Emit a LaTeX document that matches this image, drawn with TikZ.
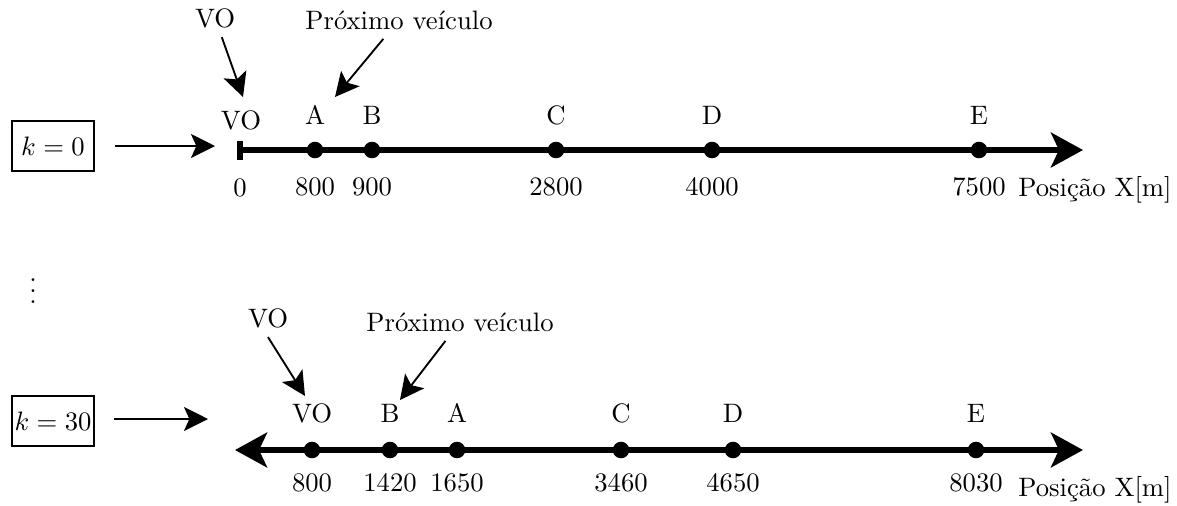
\documentclass[tikz,border=0pt]{standalone}
\usetikzlibrary{arrows.meta,positioning}

\tikzset{
  axis/.style={line width=2.3pt},
  dot/.style={circle,fill,inner sep=0pt,minimum size=6.2pt},
  pointer/.style={line width=0.7pt,-{Stealth[length=9pt,width=9pt,inset=2pt]}},
  stepbox/.style={draw,line width=0.8pt,minimum width=31pt,minimum height=18.5pt,inner sep=0pt},
}

\begin{document}
\begin{tikzpicture}[x=0.375pt,y=-0.375pt]
\useasboundingbox (0,0) rectangle (1177,505);

% instante k = 0
\node[stepbox] (k0) at (53,146) {$k=0$};
\coordinate (in0) at (215,146);
\draw[pointer,shorten <=7.5pt] (k0.east) -- (in0);

\coordinate (s0) at (240,150);
\coordinate (e0) at (1083,150);
\draw[axis,-{Stealth[length=12pt,width=13pt,inset=3pt]}] (s0) -- (e0);
\fill (237,141) rectangle (243,160);
\node (aVO) at (241,120) {VO};
\node (bVO) at (240,188) {0};
\foreach \n/\x/\v in {A/315/800,B/372/900,C/556/2800,D/712/4000,E/979/7500}{
  \node[dot] (d\n) at (\x,150) {};
  \node (a\n) at (\x,115) {\n};
  \node (b\n) at (\x,187) {\v};
}
\node (pos0) at (1095,190) {Posição X[m]};

\node (voT) at (215,18) {VO};
\coordinate (voTip) at (243,97);
\draw[pointer] (voT) -- (voTip);
\node (proxT) at (399,20) {Próximo veículo};
\coordinate (proxTip) at (335,97);
\draw[pointer] (proxT) -- (proxTip);

\node (vdots) at (33,283) {$\vdots$};

% instante k = 30
\node[stepbox] (k30) at (53,421) {$k=30$};
\coordinate (in30) at (208,419);
\draw[pointer,shorten <=7pt] (k30.east |- in30) -- (in30);

\coordinate (s30) at (235,450);
\coordinate (e30) at (1083,450);
\draw[axis,{Stealth[length=12pt,width=13pt,inset=3pt]}-{Stealth[length=12pt,width=13pt,inset=3pt]}] (s30) -- (e30);
\foreach \n/\x/\v in {VO/312/800,B/390/1420,A/457/1650,C/621/3460,D/733/4650,E/976/8030}{
  \node[dot] (f\n) at (\x,450) {};
  \node (g\n) at (\x,413) {\n};
  \node (h\n) at (\x,483) {\v};
}
\node (pos30) at (1095,490) {Posição X[m]};

\node (voB) at (268,318) {VO};
\coordinate (voBtip) at (305,396);
\draw[pointer] (voB.south) -- (voBtip);
\node (proxB) at (460,322) {Próximo veículo};
\coordinate (proxBtip) at (400,400);
\draw[pointer] (proxB) -- (proxBtip);
\end{tikzpicture}
\end{document}
